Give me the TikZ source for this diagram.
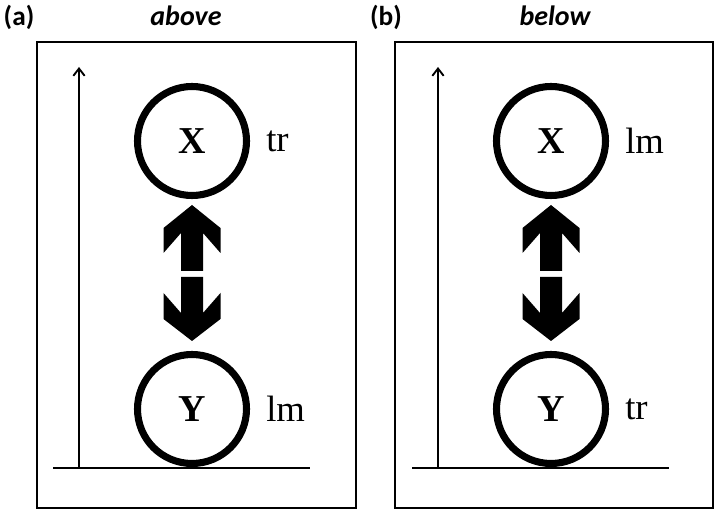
\documentclass[tikz,border=0pt]{standalone}
\usepackage{fontspec}
\setmainfont{Liberation Serif}
\newfontfamily\titlefont{Carlito}
\usetikzlibrary{arrows.meta,positioning,calc}

\begin{document}
\begin{tikzpicture}[x=0.75pt, y=-0.75pt,
  frame/.style={draw, line width=2.2pt},
  entity/.style={circle, draw, line width=5.3pt, minimum size=81.75pt,
                 inner sep=0pt, font=\fontsize{28.5}{30}\selectfont\bfseries},
  role/.style={inner sep=0pt, font=\fontsize{27.5}{30}\selectfont},
  paneltag/.style={font=\titlefont\fontsize{20.5}{22}\selectfont\bfseries},
  paneltitle/.style={font=\titlefont\fontsize{21}{22}\selectfont\bfseries\itshape},
  axisline/.style={line width=1.5pt},
  axisarrow/.style={axisline, -{Straight Barb[length=5.5pt, width=8.5pt, line width=1.4pt]}},
  updown/.pic={
    \fill (0,-70) -- (28.5,-47) -- (28.5,-22) -- (11,-42) -- (11,-4)
      -- (-11,-4) -- (-11,-42) -- (-28.5,-22) -- (-28.5,-47) -- cycle;
    \fill (-11,2) -- (11,2) -- (11,38) -- (28.5,18) -- (28.5,44) -- (0,66)
      -- (-28.5,44) -- (-28.5,18) -- (-11,38) -- cycle;
  },
  node distance=12pt
]
  \useasboundingbox (0,0) rectangle (715,513);

  % panel (a)
  \node[paneltag] (taga) at (19,17) {(a)};
  \node[paneltitle] (titlea) at (186,16) {above};
  \draw[frame] (37,42) rectangle (356,508);
  \coordinate (origa) at (79,468);
  \coordinate (topa) at (79,67);
  \coordinate (lefta) at (53,468);
  \coordinate (righta) at (310,468);
  \draw[axisline] (lefta) -- (righta);
  \draw[axisarrow] (origa) -- (topa);
  \node[entity] (xa) at (192,141) {X};
  \node[entity] (ya) at (192,409) {Y};
  \node[role, right=of xa] (tra) {tr};
  \node[role, right=of ya] (lma) {lm};
  \pic at ($(xa)!0.5!(ya)$) {updown};

  % panel (b)
  \node[paneltag] (tagb) at (386,17) {(b)};
  \node[paneltitle] (titleb) at (555,16) {below};
  \draw[frame] (395,42) rectangle (713,508);
  \coordinate (origb) at (438,468);
  \coordinate (topb) at (438,67);
  \coordinate (leftb) at (412,468);
  \coordinate (rightb) at (669,468);
  \draw[axisline] (leftb) -- (rightb);
  \draw[axisarrow] (origb) -- (topb);
  \node[entity] (xb) at (551,141) {X};
  \node[entity] (yb) at (551,409) {Y};
  \node[role, right=of xb] (lmb) {lm};
  \node[role, right=of yb] (trb) {tr};
  \pic at ($(xb)!0.5!(yb)$) {updown};
\end{tikzpicture}
\end{document}
